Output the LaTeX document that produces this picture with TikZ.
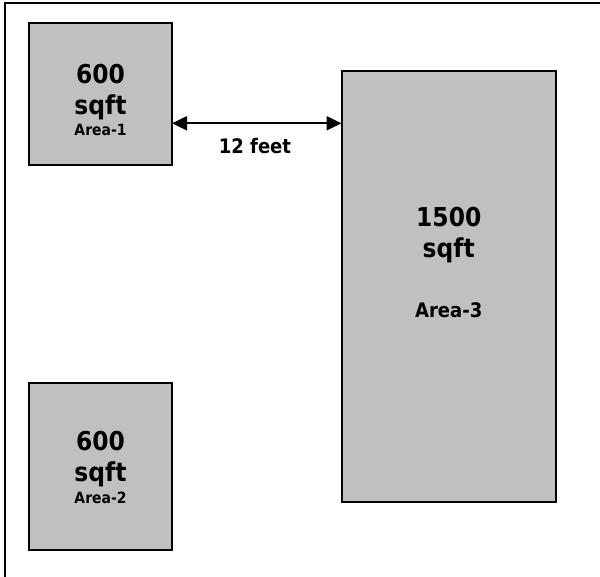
\documentclass[tikz,border=0pt]{standalone}
\usepackage{fontspec}
\setmainfont{DejaVu Sans Condensed}
\usetikzlibrary{arrows.meta}
\tikzset{
  area/.style={draw=black, fill={rgb,255:red,192;green,192;blue,192}, line width=2pt, inner sep=0pt, outer sep=0pt},
  big/.style={anchor=base, inner sep=0pt, font=\fontsize{26}{26}\selectfont\bfseries},
  small/.style={anchor=base, inner sep=0pt, font=\fontsize{15.5}{15.5}\selectfont\bfseries},
  mid/.style={anchor=base, inner sep=0pt, font=\fontsize{20}{20}\selectfont\bfseries},
  frame/.style={line width=2pt, draw=black},
  dim/.style={line width=2pt, {Triangle[length=15pt,width=14pt]}-{Triangle[length=15pt,width=14pt]}}
}
\begin{document}
\begin{tikzpicture}[x=1pt,y=-1pt]
\useasboundingbox (0,0) rectangle (600,577);
% frame (top and left edges)
\coordinate (fTL) at (5,3.5);
\coordinate (fTR) at (601,3.5);
\coordinate (fBL) at (5,578);
\draw[frame] (fTR) -- (fTL) -- (fBL);
% areas
\node[area, minimum width=143pt, minimum height=142pt] (a1) at (100.5,94.5) {};
\node[area, minimum width=143pt, minimum height=166.5pt] (a2) at (100.5,466.25) {};
\node[area, minimum width=214.5pt, minimum height=430.5pt] (a3) at (448.75,286.25) {};
% texts
\node[big] (a1n) at (100.5,83.3) {600};
\node[big] (a1s) at (100.5,114.5) {sqft};
\node[small] (a1l) at (100.5,135.7) {Area-1};
\node[big] (a2n) at (100.5,450.6) {600};
\node[big] (a2s) at (100.5,481.8) {sqft};
\node[small] (a2l) at (100.5,503) {Area-2};
\node[big] (a3n) at (448.75,226.7) {1500};
\node[big] (a3s) at (448.75,258) {sqft};
\node[mid] (a3l) at (448.75,317.7) {Area-3};
% dimension
\coordinate (dimy) at (0,123.3);
\draw[dim] (a1.east |- dimy) -- (a3.west |- dimy);
\node[mid] (dimt) at (255,153.3) {12 feet};
\end{tikzpicture}
\end{document}
